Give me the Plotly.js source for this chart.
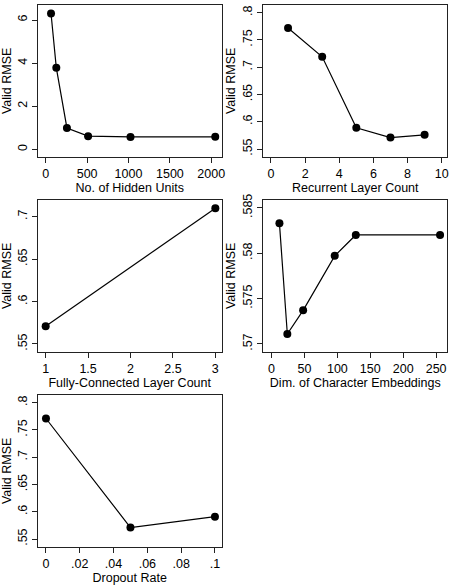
<!DOCTYPE html>
<html>
<head>
<meta charset="utf-8">
<script src="https://cdn.plot.ly/plotly-3.0.1.min.js"></script>
<style>
  html, body { margin: 0; padding: 0; background: #ffffff; }
  #chart { width: 450px; height: 585px; }
</style>
</head>
<body>
<div id="chart"></div>
<script>
// Validation RMSE for each hyper-parameter sweep

// Number of hidden units
const hiddenUnits = [64, 128, 256, 512, 1024, 2048];
const hiddenRmse = [6.30, 3.78, 0.99, 0.61, 0.575, 0.578];
const hiddenXTicks = [0, 500, 1000, 1500, 2000];
const hiddenXText = ["0", "500", "1000", "1500", "2000"];
const hiddenYTicks = [0, 2, 4, 6];
const hiddenYText = ["0", "2", "4", "6"];

// Recurrent layer count
const recurrentLayers = [1, 3, 5, 7, 9];
const recurrentRmse = [0.772, 0.719, 0.589, 0.571, 0.576];
const recurrentXTicks = [0, 2, 4, 6, 8, 10];
const recurrentXText = ["0", "2", "4", "6", "8", "10"];
const rmseYTicks = [0.55, 0.6, 0.65, 0.7, 0.75, 0.8];
const rmseYText = [".55", ".6", ".65", ".7", ".75", ".8"];

// Fully-connected layer count
const fcLayers = [1, 3];
const fcRmse = [0.571, 0.710];
const fcXTicks = [1, 1.5, 2, 2.5, 3];
const fcXText = ["1", "1.5", "2", "2.5", "3"];
const fcYTicks = [0.55, 0.6, 0.65, 0.7];
const fcYText = [".55", ".6", ".65", ".7"];

// Character embedding dimension
const embedDims = [12, 24, 48, 96, 128, 256];
const embedRmse = [0.5833, 0.5711, 0.5737, 0.5797, 0.5820, 0.5820];
const embedXTicks = [0, 50, 100, 150, 200, 250];
const embedXText = ["0", "50", "100", "150", "200", "250"];
const embedYTicks = [0.57, 0.575, 0.58, 0.585];
const embedYText = [".57", ".575", ".58", ".585"];

// Dropout rate
const dropoutRates = [0, 0.05, 0.1];
const dropoutRmse = [0.771, 0.571, 0.591];
const dropoutXTicks = [0, 0.02, 0.04, 0.06, 0.08, 0.1];
const dropoutXText = ["0", ".02", ".04", ".06", ".08", ".1"];

const yLabel = "Valid RMSE";
const FONT = "Liberation Sans, Arial, Helvetica, sans-serif";

// panel definitions: data, ticks, ranges and box placement (pixels)
const W = 450, H = 585;
const colLeft = [37.7, 263.3];
const boxW = 184;
const rowTop = [5, 200, 395];
const boxH = 151.7;

const panels = [
  { x: hiddenUnits, y: hiddenRmse, title: "No. of Hidden Units",
    xt: hiddenXTicks, xl: hiddenXText, yt: hiddenYTicks, yl: hiddenYText,
    xr: [-97, 2126], yr: [-0.343, 6.696], col: 0, row: 0 },
  { x: recurrentLayers, y: recurrentRmse, title: "Recurrent Layer Count",
    xt: recurrentXTicks, xl: recurrentXText, yt: rmseYTicks, yl: rmseYText,
    xr: [-0.45, 10.33], yr: [0.5359, 0.8141], col: 1, row: 0 },
  { x: fcLayers, y: fcRmse, title: "Fully-Connected Layer Count",
    xt: fcXTicks, xl: fcXText, yt: fcYTicks, yl: fcYText,
    xr: [0.906, 3.075], yr: [0.5409, 0.7197], col: 0, row: 1 },
  { x: embedDims, y: embedRmse, title: "Dim. of Character Embeddings",
    xt: embedXTicks, xl: embedXText, yt: embedYTicks, yl: embedYText,
    xr: [-12.5, 267], yr: [0.56915, 0.58585], col: 1, row: 1 },
  { x: dropoutRates, y: dropoutRmse, title: "Dropout Rate",
    xt: dropoutXTicks, xl: dropoutXText, yt: rmseYTicks, yl: rmseYText,
    xr: [-0.0049, 0.104], yr: [0.5359, 0.8141], col: 0, row: 2 }
];

const traces = [];
const layout = {
  width: W, height: H,
  margin: { l: 0, r: 0, t: 0, b: 0 },
  paper_bgcolor: "#ffffff",
  plot_bgcolor: "#ffffff",
  showlegend: false,
  font: { family: FONT, size: 12, color: "#000000" }
};

panels.forEach((p, i) => {
  const n = i === 0 ? "" : String(i + 1);
  traces.push({
    type: "scatter", mode: "lines+markers",
    x: p.x, y: p.y,
    xaxis: "x" + n, yaxis: "y" + n,
    line: { color: "#000000", width: 1.2 },
    marker: { color: "#000000", size: 8 },
    hoverinfo: "x+y"
  });
  const left = colLeft[p.col];
  const top = rowTop[p.row];
  const common = {
    showline: true, mirror: true, linecolor: "#222222", linewidth: 1,
    showgrid: false, zeroline: false,
    ticks: "outside", ticklen: 5, tickwidth: 1, tickcolor: "#222222",
    tickmode: "array",
    tickfont: { family: FONT, size: 12.5, color: "#000000" }
  };
  layout["xaxis" + n] = Object.assign({}, common, {
    domain: [left / W, (left + boxW) / W],
    range: p.xr, tickvals: p.xt, ticktext: p.xl,
    anchor: "y" + n,
    title: { text: p.title, standoff: 0, font: { family: FONT, size: 12.5, color: "#000000" } }
  });
  layout["yaxis" + n] = Object.assign({}, common, {
    domain: [1 - (top + boxH) / H, 1 - top / H],
    range: p.yr, tickvals: p.yt, ticktext: p.yl,
    tickangle: -90,
    anchor: "x" + n,
    title: { text: yLabel, standoff: 2, font: { family: FONT, size: 12.5, color: "#000000" } }
  });
});

Plotly.newPlot("chart", traces, layout, { displayModeBar: false, staticPlot: true });
</script>
</body>
</html>
